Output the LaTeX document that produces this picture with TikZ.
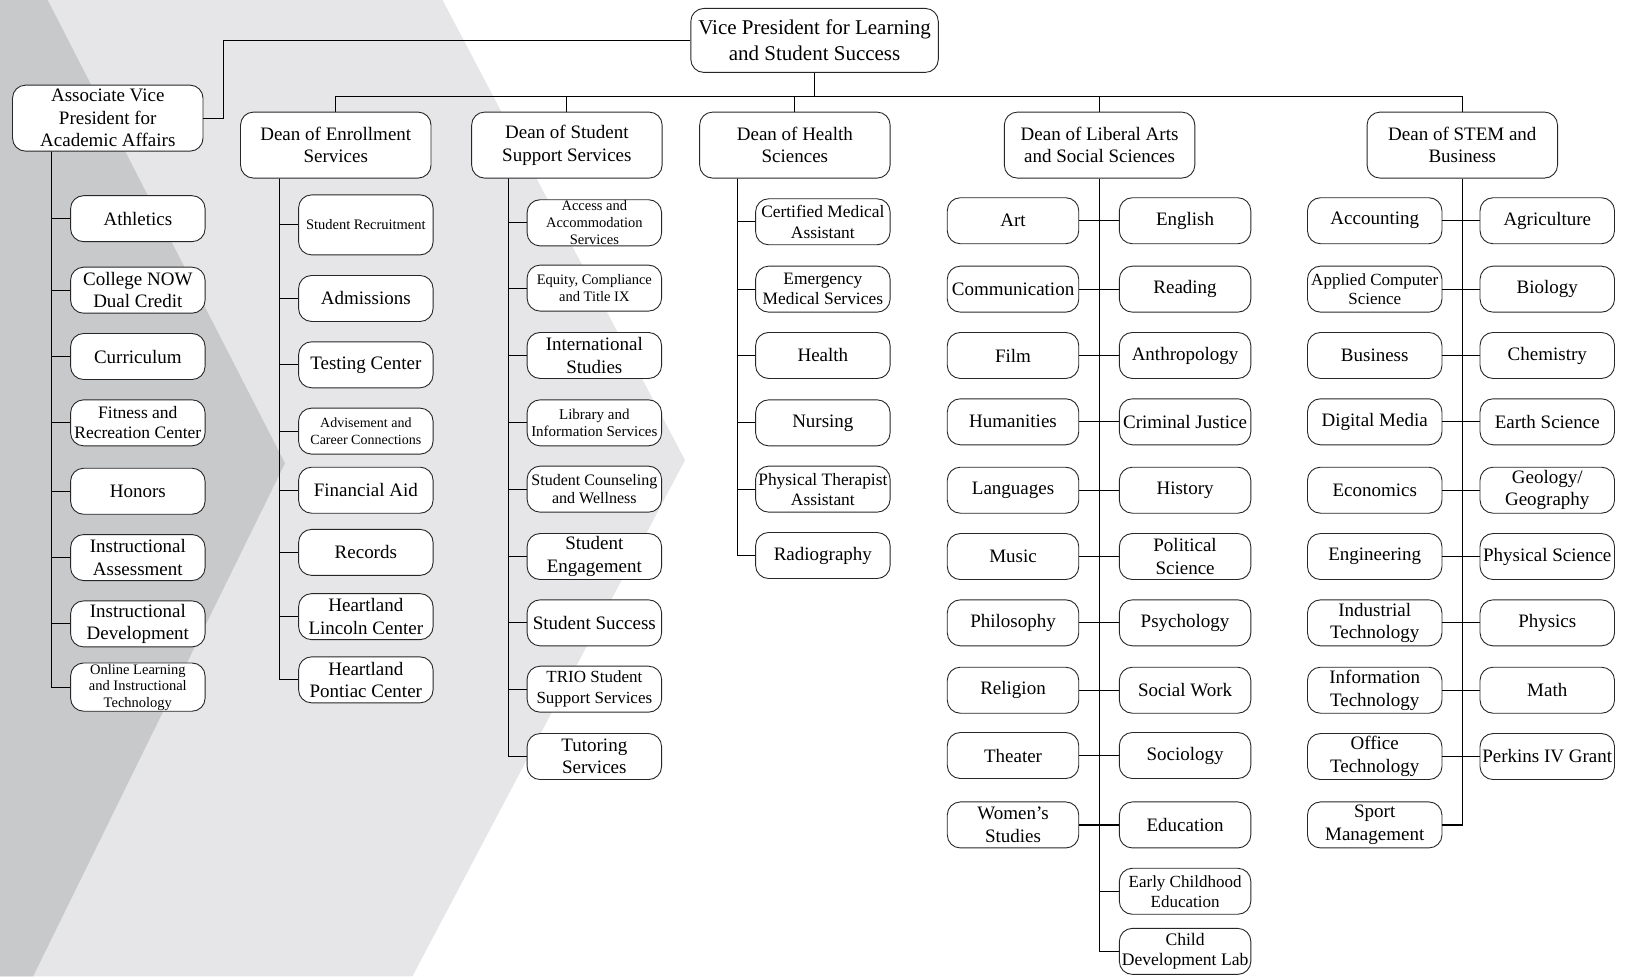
\documentclass[tikz,border=0pt]{standalone}
\usepackage{fontspec}
\setmainfont{Liberation Serif}
\usetikzlibrary{calc}
\definecolor{bglight}{RGB}{230,230,232}
\definecolor{bgdark}{RGB}{200,201,203}
\newcommand{\fs}[2]{\fontsize{#1}{#2}\selectfont}
\begin{document}
\begin{tikzpicture}[x=1.0364pt, y=-1.0364pt,
  box/.style={draw=black!85, line width=0.9pt, fill=white, rounded corners=13pt, align=center, inner sep=1pt, font=\fs{19}{22.5}},
  kid/.style={box, minimum width=134.5pt, minimum height=46pt},
  lkid/.style={box, minimum width=131.5pt, minimum height=46pt},
  dean/.style={box, minimum width=190.5pt, minimum height=66pt},
  link/.style={line width=1.2pt, black}]
\useasboundingbox (0,0) rectangle (1568,942);
\fill[bglight] (0,0) -- (427,0) -- (661,444) -- (398,942) -- (0,942) -- cycle;
\fill[bgdark] (0,0) -- (46,0) -- (275,447) -- (32,942) -- (0,942) -- cycle;

% top
\node[box, minimum width=247.5pt, minimum height=64pt, font=\fs{21}{26}] (vp) at (786,39) {Vice President for Learning\\and Student Success};
\node[dean] (avp) at (104,114) {Associate Vice\\President for\\Academic Affairs};
\node[dean] (enr) at (324,140) {Dean of Enrollment\\Services};
\node[dean] (ss) at (547,140) {Dean of Student\\Support Services};
\node[dean] (hlth) at (767,140) {Dean of Health\\Sciences};
\node[dean] (lib) at (1061,140) {Dean of Liberal Arts\\and Social Sciences};
\node[dean] (stem) at (1411,140) {Dean of STEM and\\Business};

% AVP children
\node[kid] (a1) at (133,211) {Athletics};
\node[kid] (a2) at (133,280) {College NOW\\Dual Credit};
\node[kid] (a3) at (133,344) {Curriculum};
\node[kid, font=\fs{17.5}{20}] (a4) at (133,408) {Fitness and\\Recreation Center};
\node[kid] (a5) at (133,474) {Honors};
\node[kid] (a6) at (133,538) {Instructional\\Assessment};
\node[kid] (a7) at (133,602) {Instructional\\Development};
\node[kid, font=\fs{14.5}{16.5}] (a8) at (133,663) {Online Learning\\and Instructional\\Technology};

% Enrollment children
\node[kid, minimum height=60pt, font=\fs{14.5}{17}] (e1) at (353,217) {Student Recruitment};
\node[kid] (e2) at (353,288) {Admissions};
\node[kid] (e3) at (353,352) {Testing Center};
\node[kid, font=\fs{14}{17}] (e4) at (353,416) {Advisement and\\Career Connections};
\node[kid] (e5) at (353,473) {Financial Aid};
\node[kid] (e6) at (353,533) {Records};
\node[kid] (e7) at (353,595) {Heartland\\Lincoln Center};
\node[kid] (e8) at (353,656) {Heartland\\Pontiac Center};

% Student support children
\node[kid, font=\fs{14.5}{17}] (s1) at (573.5,215) {Access and\\Accommodation\\Services};
\node[kid, font=\fs{14.5}{17}] (s2) at (573.5,278) {Equity, Compliance\\and Title IX};
\node[kid] (s3) at (573.5,343) {International\\Studies};
\node[kid, font=\fs{15}{17}] (s4) at (573.5,408) {Library and\\Information Services};
\node[kid, font=\fs{16}{18.5}] (s5) at (573.5,472) {Student Counseling\\and Wellness};
\node[kid] (s6) at (573.5,537) {Student\\Engagement};
\node[kid] (s7) at (573.5,601) {Student Success};
\node[kid, font=\fs{17}{21}] (s8) at (573.5,665) {TRIO Student\\Support Services};
\node[kid] (s9) at (573.5,730) {Tutoring\\Services};

% Health children
\node[kid, font=\fs{17.4}{21}] (h1) at (794,214) {Certified Medical\\Assistant};
\node[kid, font=\fs{17.4}{20}] (h2) at (794,279) {Emergency\\Medical Services};
\node[kid] (h3) at (794,343) {Health};
\node[kid] (h4) at (794,408) {Nursing};
\node[kid, font=\fs{17.4}{20}] (h5) at (794,472) {Physical Therapist\\Assistant};
\node[kid] (h6) at (794,536) {Radiography};

% Liberal arts children
\node[lkid] (l1) at (977.5,213) {Art};
\node[lkid] (l2) at (977.5,279) {Communication};
\node[lkid] (l3) at (977.5,343) {Film};
\node[lkid] (l4) at (977.5,407) {Humanities};
\node[lkid] (l5) at (977.5,473) {Languages};
\node[lkid] (l6) at (977.5,537) {Music};
\node[lkid] (l7) at (977.5,601) {Philosophy};
\node[lkid] (l8) at (977.5,666) {Religion};
\node[lkid] (l9) at (977.5,729) {Theater};
\node[lkid] (l10) at (977.5,796) {Women’s\\Studies};
\node[lkid] (r1) at (1143.5,213) {English};
\node[lkid] (r2) at (1143.5,279) {Reading};
\node[lkid] (r3) at (1143.5,343) {Anthropology};
\node[lkid] (r4) at (1143.5,407) {Criminal Justice};
\node[lkid] (r5) at (1143.5,473) {History};
\node[lkid] (r6) at (1143.5,537) {Political\\Science};
\node[lkid] (r7) at (1143.5,601) {Psychology};
\node[lkid] (r8) at (1143.5,666) {Social Work};
\node[lkid] (r9) at (1143.5,729) {Sociology};
\node[lkid] (r10) at (1143.5,796) {Education};
\node[lkid, font=\fs{17}{20}] (r11) at (1143.5,860) {Early Childhood\\Education};
\node[lkid, font=\fs{17.6}{20.5}] (r12) at (1143.5,918) {Child\\Development Lab};

% STEM children
\node[kid] (t1) at (1326.5,213) {Accounting};
\node[kid, font=\fs{17}{19.5}] (t2) at (1326.5,279) {Applied Computer\\Science};
\node[kid] (t3) at (1326.5,343) {Business};
\node[kid] (t4) at (1326.5,407) {Digital Media};
\node[kid] (t5) at (1326.5,473) {Economics};
\node[kid] (t6) at (1326.5,537) {Engineering};
\node[kid] (t7) at (1326.5,601) {Industrial\\Technology};
\node[kid] (t8) at (1326.5,666) {Information\\Technology};
\node[kid] (t9) at (1326.5,730) {Office\\Technology};
\node[kid] (t10) at (1326.5,796) {Sport\\Management};
\node[kid] (u1) at (1493,213) {Agriculture};
\node[kid] (u2) at (1493,279) {Biology};
\node[kid] (u3) at (1493,343) {Chemistry};
\node[kid] (u4) at (1493,407) {Earth Science};
\node[kid] (u5) at (1493,473) {Geology/\\Geography};
\node[kid] (u6) at (1493,537) {Physical Science};
\node[kid] (u7) at (1493,601) {Physics};
\node[kid] (u8) at (1493,666) {Math};
\node[kid] (u9) at (1493,730) {Perkins IV Grant};

% connectors
\draw[link] (vp.west) -| ([xshift=19.7pt]avp.east) -- (avp.east);
\coordinate (bus) at (786,93);
\draw[link] (vp.south) -- (bus);
\draw[link] (enr.north) |- (bus) -| (stem.north);
\foreach \d in {ss,hlth,lib} \draw[link] (\d.north) -- (\d.north |- bus);

\coordinate (avpT) at ([xshift=39.4pt]avp.south west);
\foreach \n in {a1,a2,a3,a4,a5,a6,a7,a8} \draw[link] (avpT) |- (\n.west);
\coordinate (enrT) at ([xshift=39.4pt]enr.south west);
\foreach \n in {e1,e2,e3,e4,e5,e6,e7,e8} \draw[link] (enrT) |- (\n.west);
\coordinate (ssT) at ([xshift=37.5pt]ss.south west);
\foreach \n in {s1,s2,s3,s4,s5,s6,s7,s8,s9} \draw[link] (ssT) |- (\n.west);
\coordinate (hT) at ([xshift=38.3pt]hlth.south west);
\foreach \n in {h1,h2,h3,h4,h5,h6} \draw[link] (hT) |- (\n.west);

\draw[link] (lib.south) |- (r12.west);
\draw[link] (lib.south) |- (r11.west);
\foreach \i in {1,...,10} \draw[link] (l\i.east) -- (r\i.west);

\draw[link] (stem.south) |- (t10.east);
\foreach \i in {1,...,9} \draw[link] (t\i.east) -- (u\i.west);
\end{tikzpicture}
\end{document}
